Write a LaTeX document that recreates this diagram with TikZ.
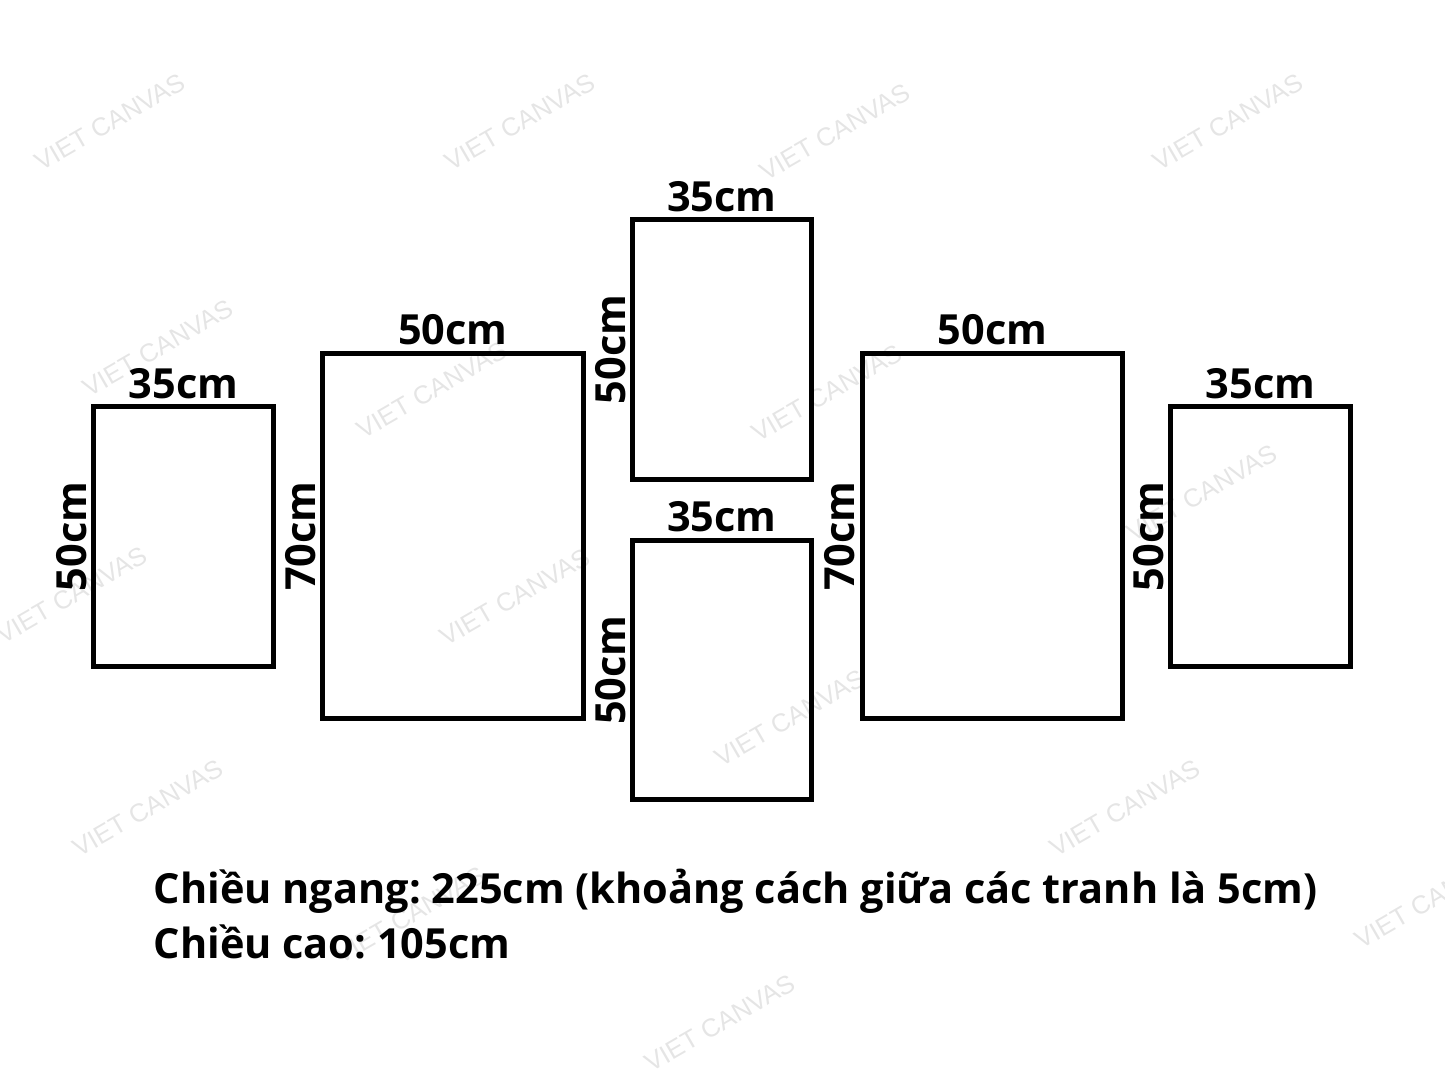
\documentclass[tikz,border=0pt]{standalone}
\usepackage{fontspec}
\setmainfont{Open Sans}
\newfontfamily\wmfont{Liberation Sans}
\usetikzlibrary{positioning}
\frenchspacing
\tikzset{
  frame/.style={draw,line width=1.4pt,inner sep=0pt},
  small/.style={frame,minimum width=1.79cm,minimum height=2.59cm},
  big/.style={frame,minimum width=2.6cm,minimum height=3.65cm},
  cmlabel/.style={font=\bfseries\fontsize{11.8}{14}\selectfont,inner sep=0pt},
  wm/.style={font=\wmfont\fontsize{7.3}{9}\selectfont,text=black!10,
    rotate=30,inner sep=0pt}}

\begin{document}
\begin{tikzpicture}[x=0.01cm,y=-0.01cm]
\useasboundingbox (0,0) rectangle (1445,1084);
\foreach \x/\y [count=\i] in {110/122,520/122,835/132,1228/122,
  158/348,432/390,827/393,1202/493,72/595,515/597,790/718,
  148/808,1125/808,1430/900,720/1023,410/915}
  \node[wm] (wm\i) at (\x,\y) {VIET CANVAS};
% panels
\node[small] (p1) at (183.5,536.5) {};
\node[big]   (p2) at (453,536) {};
\node[small] (p3) at (722,349.5) {};
\node[small] (p4) at (722,670) {};
\node[big]   (p5) at (992.5,536) {};
\node[small] (p6) at (1260.5,536.5) {};
% widths
\node[cmlabel,above=1.4pt of p1] (w1) {35cm};
\node[cmlabel,above=1.4pt of p2] (w2) {50cm};
\node[cmlabel,above=1.4pt of p3] (w3) {35cm};
\node[cmlabel,above=1.4pt of p4] (w4) {35cm};
\node[cmlabel,above=1.4pt of p5] (w5) {50cm};
\node[cmlabel,above=1.4pt of p6] (w6) {35cm};
% heights
\node[cmlabel,rotate=90,anchor=south] (h1) at ([xshift=-1.1pt]p1.west) {50cm};
\node[cmlabel,rotate=90,anchor=south] (h2) at ([xshift=-1.1pt]p2.west) {70cm};
\node[cmlabel,rotate=90,anchor=south] (h3) at ([xshift=-1.1pt]p3.west) {50cm};
\node[cmlabel,rotate=90,anchor=south] (h4) at ([xshift=-1.1pt]p4.west) {50cm};
\node[cmlabel,rotate=90,anchor=south] (h5) at ([xshift=-1.1pt]p5.west) {70cm};
\node[cmlabel,rotate=90,anchor=south] (h6) at ([xshift=-1.1pt]p6.west) {50cm};
\node[cmlabel,anchor=base west,align=left,
  font=\bfseries\fontsize{11.8}{15.6}\selectfont] (note) at (153,958)
  {Chiều ngang: 225cm (khoảng cách giữa các tranh là 5cm)\\
   Chiều cao: 105cm};
\end{tikzpicture}
\end{document}
